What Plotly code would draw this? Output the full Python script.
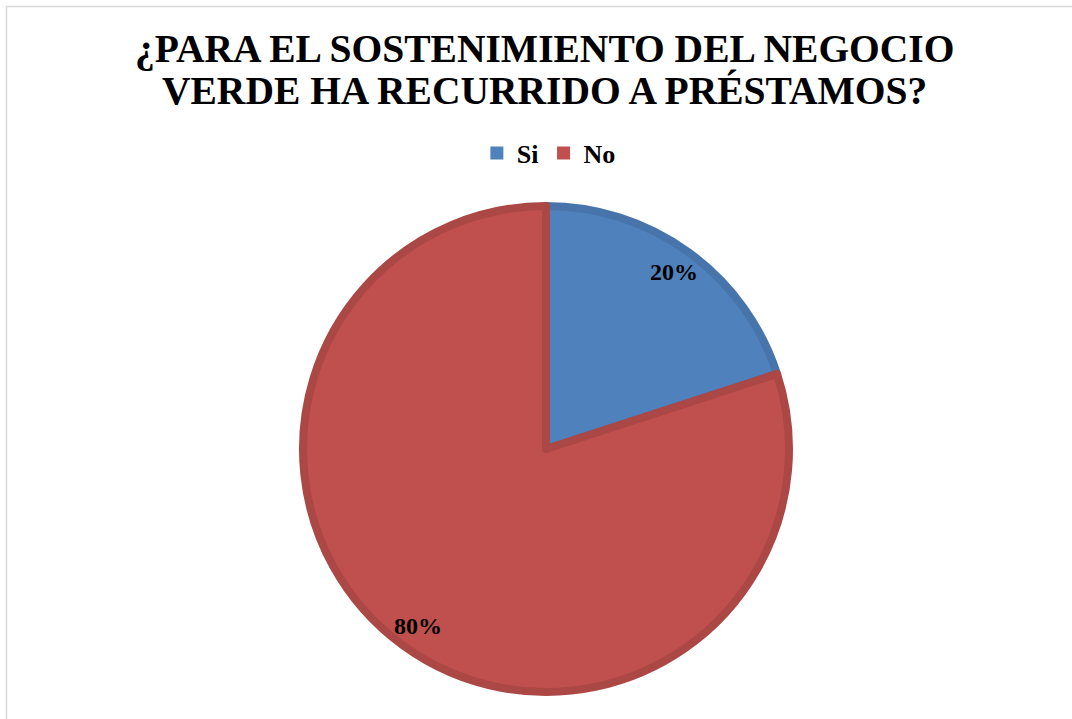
import math
import plotly.graph_objects as go

categories = ["Si", "No"]
values = [20, 80]
fill_colors = ["#4F81BD", "#C0504D"]
line_colors = ["#4774AA", "#AB4744"]
title_lines = ["¿PARA EL SOSTENIMIENTO DEL NEGOCIO", "VERDE HA RECURRIDO A PRÉSTAMOS?"]

W, H = 1072, 719
FONT = "Liberation Serif, Times New Roman, serif"

cx, cy, R = 546, 449, 243
fig = go.Figure()
fig.add_trace(go.Pie(
    labels=categories,
    values=values,
    sort=False,
    direction="clockwise",
    rotation=0,
    marker=dict(colors=fill_colors, line=dict(color=line_colors, width=8)),
    textinfo="none",
    hoverinfo="label+percent",
    showlegend=False,
    domain=dict(x=[(cx - R) / W, (cx + R) / W], y=[1 - (cy + R) / H, 1 - (cy - R) / H]),
))

# legend entries (square swatches)
for name, col in zip(categories, fill_colors):
    fig.add_trace(go.Scatter(
        x=[None], y=[None], mode="markers", name=name,
        marker=dict(symbol="square", size=13, color=col, line=dict(width=0)),
    ))

annotations = []
for line, ypx in zip(title_lines, [48.5, 91]):
    annotations.append(dict(
        text=f"<b>{line}</b>", x=544 / W, y=1 - ypx / H, xref="paper", yref="paper",
        xanchor="center", yanchor="middle", showarrow=False,
        font=dict(family=FONT, size=39.5, color="black"),
    ))

# percentage labels placed along each slice's mid-angle
total = sum(values)
cum = 0
label_r = 0.885 * (R + 4)
for v in values:
    mid = (cum + v / 2) / total * 2 * math.pi
    cum += v
    px = cx + label_r * math.sin(mid)
    py = cy - label_r * math.cos(mid)
    annotations.append(dict(
        text=f"<b>{round(v / total * 100)}%</b>", x=px / W, y=1 - py / H,
        xref="paper", yref="paper", xanchor="center", yanchor="middle", showarrow=False,
        font=dict(family=FONT, size=24, color="black"),
    ))

fig.update_layout(
    width=W, height=H,
    margin=dict(l=0, r=0, t=0, b=0),
    paper_bgcolor="white",
    plot_bgcolor="white",
    xaxis=dict(visible=False),
    yaxis=dict(visible=False),
    annotations=annotations,
    showlegend=True,
    legend=dict(
        orientation="h", x=0.512, xanchor="center", y=1 - 153 / H, yanchor="middle",
        font=dict(family=FONT, size=26, color="black", weight="bold"),
        itemwidth=30, bgcolor="rgba(0,0,0,0)",
    ),
    shapes=[dict(type="rect", xref="paper", yref="paper",
                 x0=6.5 / W, y0=-0.05, x1=1.05, y1=1 - 6.5 / H,
                 line=dict(color="#D9D9D9", width=1.5), fillcolor="rgba(0,0,0,0)", layer="below")],
)

fig.write_html("out.html", config={"displayModeBar": False},
               post_script="document.body.style.margin='0';")
